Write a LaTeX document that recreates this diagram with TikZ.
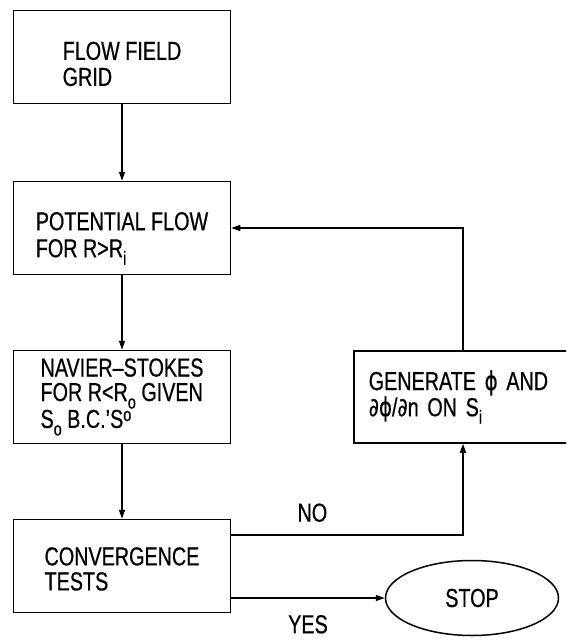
\documentclass[tikz,border=0pt]{standalone}
\usepackage{fontspec}
\setmainfont{Liberation Sans}[FakeStretch=0.76,FakeBold=0.6]
\newfontfamily\greekfont{DejaVu Sans}[FakeStretch=0.76,FakeBold=0.6]
\usetikzlibrary{arrows.meta,shapes.geometric}
\newcommand{\lowsub}[1]{\raisebox{-0.55ex}{\fontsize{19}{19}\selectfont #1}}
\newcommand{\highsup}[1]{\raisebox{0.5ex}{\fontsize{19}{19}\selectfont #1}}
\newcommand{\topstrut}[1]{\rule{0pt}{#1}}
\newcommand{\phisym}{{\greekfont ϕ}}
\newcommand{\partsym}{{\greekfont ∂}}

\begin{document}
\begin{tikzpicture}[x=1pt,y=-1pt,line width=1.5pt,
  font=\fontsize{26}{24}\selectfont,
  box/.style={draw,rectangle,align=left,minimum width=217pt,minimum height=93pt,inner sep=0pt},
  flow/.style={-{Triangle[length=9pt,width=6pt]}}]
\useasboundingbox (0,0) rectangle (566,640);
\clip (0,0) rectangle (566,640);
% main column
\node[box,font=\fontsize{26}{26}\selectfont] (grid) at (122,57) {\topstrut{32pt}FLOW FIELD\\GRID};
\node[box,font=\fontsize{26}{27}\selectfont] (potential) at (122,228) {\topstrut{39pt}POTENTIAL FLOW\\FOR R>R\lowsub{i}};
\node[box,font=\fontsize{26}{24.5}\selectfont] (navier) at (122,397) {NAVIER--STOKES\\FOR R<R\lowsub{o} GIVEN\\S\lowsub{o} B.C.'S\highsup{o}};
\node[box,font=\fontsize{26}{25}\selectfont] (conv) at (122,566) {\topstrut{24pt}CONVERGENCE\\TESTS};
% side branch
\node[draw,rectangle,anchor=west,text width=230pt,minimum height=92pt,inner xsep=15pt,align=left,
  font=\fontsize{26}{19.5}\selectfont] (generate) at (353,397)
  {GENERATE \phisym{} AND\\\partsym\phisym/\partsym n ON S\lowsub{i}};
\node[draw,ellipse,minimum width=173pt,minimum height=75pt,inner sep=0pt] (stop) at (472,598) {STOP};
\coordinate (turn) at (463,535);

\draw[flow] (grid) -- (potential);
\draw[flow] (potential) -- (navier);
\draw[flow] (navier) -- (conv);
\draw[flow] (conv.east |- turn) -- node[pos=0.35,above=9pt] {NO} (turn) -- (turn |- generate.south);
\draw[flow] (turn |- generate.north) |- (potential.east);
\draw[flow] (conv.east |- stop.west) -- node[pos=0.5,below=13pt] {YES} (stop.west);
\end{tikzpicture}
\end{document}
